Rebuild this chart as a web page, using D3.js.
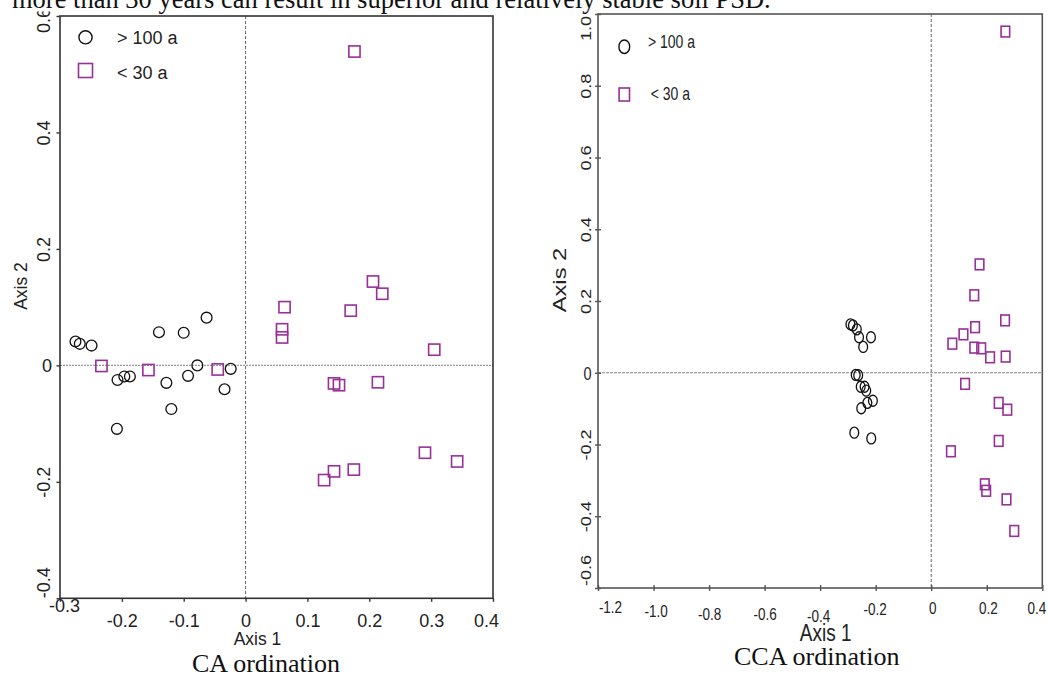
<!DOCTYPE html>
<html>
<head>
<meta charset="utf-8">
<script src="https://cdnjs.cloudflare.com/ajax/libs/d3/7.8.5/d3.min.js"></script>
<style>
  body { margin: 0; background: #fff; }
  svg { display: block; }
  text { font-family: "Liberation Sans", Arial, sans-serif; fill: #222; }
  .serif { font-family: "Liberation Serif", "Times New Roman", serif; fill: #111; }
</style>
</head>
<body>
<div id="chart"></div>
<script>
// CA ordination scores (Axis 1, Axis 2)
const caOldX = [-0.275, -0.268, -0.249, -0.140, -0.100, -0.063, -0.207, -0.196, -0.187, -0.128, -0.093, -0.078, -0.024, -0.034, -0.120, -0.208];
const caOldY = [0.041, 0.037, 0.034, 0.057, 0.056, 0.082, -0.025, -0.019, -0.019, -0.030, -0.018, 0.000, -0.006, -0.041, -0.075, -0.109];
const caYoungX = [-0.233, -0.157, -0.045, 0.176, 0.206, 0.221, 0.063, 0.170, 0.059, 0.059, 0.305, 0.143, 0.151, 0.214, 0.290, 0.342, 0.143, 0.175, 0.127];
const caYoungY = [-0.001, -0.008, -0.007, 0.539, 0.144, 0.123, 0.100, 0.094, 0.062, 0.048, 0.027, -0.031, -0.034, -0.029, -0.150, -0.165, -0.182, -0.179, -0.197];

// CCA ordination scores (Axis 1, Axis 2)
const ccaOldX = [-0.291, -0.282, -0.268, -0.260, -0.217, -0.245, -0.272, -0.263, -0.254, -0.240, -0.234, -0.210, -0.230, -0.252, -0.277, -0.216];
const ccaOldY = [0.135, 0.132, 0.121, 0.099, 0.099, 0.072, -0.006, -0.007, -0.039, -0.039, -0.050, -0.078, -0.084, -0.099, -0.167, -0.183];
const ccaYoungX = [0.267, 0.174, 0.155, 0.266, 0.158, 0.116, 0.076, 0.155, 0.180, 0.212, 0.268, 0.122, 0.243, 0.274, 0.243, 0.071, 0.193, 0.198, 0.271, 0.299];
const ccaYoungY = [0.951, 0.302, 0.216, 0.146, 0.127, 0.107, 0.081, 0.070, 0.068, 0.043, 0.045, -0.031, -0.084, -0.103, -0.190, -0.219, -0.311, -0.329, -0.353, -0.441];

const caXTicks = [-0.3, -0.2, -0.1, 0, 0.1, 0.2, 0.3, 0.4];
const caYTicks = [-0.4, -0.2, 0, 0.2, 0.4, 0.6];
const ccaXTicks = [-1.2, -1.0, -0.8, -0.6, -0.4, -0.2, 0, 0.2, 0.4];
const ccaYTicks = [-0.6, -0.4, -0.2, 0, 0.2, 0.4, 0.6, 0.8, 1.0];

const groups = ["> 100 a", "< 30 a"];
const headerText = "more than 30 years can result in superior and relatively stable soil PSD.";
const purple = "#973097";

const svg = d3.select("#chart")
              .append("svg")
              .attr("width", 1048)
              .attr("height", 675);

const drawPanel = (p) => {
  const k = p.stretch; // the right figure was pasted vertically stretched
  const x = d3.scaleLinear().domain(p.xDomain).range([p.left, p.right]);
  const y = d3.scaleLinear().domain(p.yDomain).range([p.bottom, p.top]);
  const g = svg.append("g");

  // zero lines
  g.append("line")
    .attr("x1", p.left).attr("x2", p.right)
    .attr("y1", y(0)).attr("y2", y(0))
    .attr("stroke", p.hZeroColor).attr("stroke-width", p.hZeroWidth)
    .attr("stroke-dasharray", p.hZeroDash);
  g.append("line")
    .attr("x1", x(0)).attr("x2", x(0))
    .attr("y1", p.top).attr("y2", p.bottom)
    .attr("stroke", "#666").attr("stroke-width", 1)
    .attr("stroke-dasharray", "3,2");

  // frame
  g.append("rect")
    .attr("x", p.left).attr("y", p.top)
    .attr("width", p.right - p.left).attr("height", p.bottom - p.top)
    .attr("fill", "none").attr("stroke", p.axisColor).attr("stroke-width", 1.6);

  const xAxis = d3.axisBottom(x).tickValues(p.xTicks).tickFormat(p.fmt)
                  .tickSizeInner(p.tickOut).tickSizeOuter(0);
  const gx = g.append("g").attr("transform", `translate(0,${p.bottom})`).call(xAxis);
  gx.select(".domain").remove();
  gx.selectAll(".tick line").attr("y1", -p.tickIn).attr("stroke", p.axisColor).attr("stroke-width", 1.4);
  gx.selectAll(".tick text")
    .attr("font-size", p.tickFont).attr("fill", "#222")
    .attr("y", 0).attr("dy", 0)
    .attr("transform", (d, i) => {
      const [dx, base] = p.xLabelPos(i);
      return `translate(${dx},${base}) scale(1,${k})`;
    });

  const yAxis = d3.axisLeft(y).tickValues(p.yTicks).tickFormat(p.fmt)
                  .tickSizeInner(p.tickOut).tickSizeOuter(0);
  const gy = g.append("g").attr("transform", `translate(${p.left},0)`).call(yAxis);
  gy.select(".domain").remove();
  gy.selectAll(".tick line").attr("x1", p.tickIn).attr("stroke", p.axisColor).attr("stroke-width", 1.4);
  gy.selectAll(".tick text")
    .attr("font-size", p.yTickFont).attr("fill", "#222")
    .attr("x", 0).attr("y", 0)
    .attr("dy", d => d === 0 ? "0.36em" : 0)
    .attr("text-anchor", d => d === 0 ? "end" : "middle")
    .attr("transform", (d, i) => {
      if (d === 0) return `translate(${-p.zeroGap},0) scale(1,${k})`;
      return `translate(${-p.yLabelGap},${p.yLabelShift(i)}) scale(1,${k}) rotate(-90)`;
    });

  // points
  g.append("g")
    .selectAll("ellipse")
    .data(d3.range(p.oldX.length))
    .join("ellipse")
    .attr("cx", i => x(p.oldX[i]))
    .attr("cy", i => y(p.oldY[i]))
    .attr("rx", p.r).attr("ry", p.r * k)
    .attr("fill", "none").attr("stroke", "#111").attr("stroke-width", 1.3);

  g.append("g")
    .selectAll("rect")
    .data(d3.range(p.youngX.length))
    .join("rect")
    .attr("x", i => x(p.youngX[i]) - p.sq / 2)
    .attr("y", i => y(p.youngY[i]) - p.sq * k / 2)
    .attr("width", p.sq).attr("height", p.sq * k)
    .attr("fill", "none").attr("stroke", purple).attr("stroke-width", 1.6);

  // legend
  const L = p.legend;
  g.append("ellipse")
    .attr("cx", L.mx).attr("cy", L.my[0])
    .attr("rx", L.r).attr("ry", L.r * k)
    .attr("fill", "none").attr("stroke", "#111").attr("stroke-width", 1.4);
  g.append("rect")
    .attr("x", L.mx - L.sq / 2).attr("y", L.my[1] - L.sq * k / 2)
    .attr("width", L.sq).attr("height", L.sq * k)
    .attr("fill", "none").attr("stroke", purple).attr("stroke-width", 1.6);
  g.selectAll(".leg")
    .data(groups)
    .join("text")
    .attr("class", "leg")
    .attr("font-size", L.font)
    .attr("transform", (d, i) => `translate(${L.tx[i]},${L.ty[i]}) scale(1,${k})`)
    .text(d => d);

  // axis titles
  g.append("text")
    .attr("font-size", p.titleFont)
    .attr("text-anchor", "middle")
    .attr("transform", `translate(${p.xTitle[0]},${p.xTitle[1]}) scale(1,${k})`)
    .text("Axis 1");
  g.append("text")
    .attr("font-size", p.titleFont)
    .attr("text-anchor", "middle")
    .attr("transform", `translate(${p.yTitle[0]},${p.yTitle[1]}) scale(1,${k}) rotate(-90)`)
    .text("Axis 2");

  g.append("text")
    .attr("class", "serif")
    .attr("font-size", 26)
    .attr("text-anchor", "middle")
    .attr("x", p.caption[0]).attr("y", p.caption[1])
    .text(p.captionText);
};

drawPanel({
  left: 60, right: 493, top: 16, bottom: 598.3,
  xDomain: [-0.3, 0.4], yDomain: [-0.4, 0.6],
  xTicks: caXTicks, yTicks: caYTicks,
  fmt: d => String(d),
  stretch: 1,
  axisColor: "#333",
  hZeroColor: "#999", hZeroWidth: 1.3, hZeroDash: "2,1",
  tickOut: 3.5, tickIn: 0,
  tickFont: 18, yTickFont: 18,
  xLabelPos: i => i === 0 ? [4, 13.5] : i === caXTicks.length - 1 ? [-7, 28.5] : [0, 28.5],
  yLabelGap: 10,
  yLabelShift: i => i === 0 ? -16 : i === caYTicks.length - 1 ? 4 : 0,
  zeroGap: 8,
  oldX: caOldX, oldY: caOldY, youngX: caYoungX, youngY: caYoungY,
  r: 5.4, sq: 11.2,
  legend: { mx: 85.5, my: [37.3, 70.5], r: 6.6, sq: 14, font: 18, tx: [117, 117], ty: [43.5, 78.5] },
  titleFont: 17.5,
  xTitle: [257.5, 645], yTitle: [27, 286],
  caption: [266, 672], captionText: "CA ordination"
});

const ccaNudge = [[12, 25], [2, 29], [0, 32], [0, 32], [-2, 34], [-1, 27], [1, 26], [1, 26], [-6, 26]];
drawPanel({
  left: 598, right: 1042.3, top: 14, bottom: 588,
  xDomain: [-1.2, 0.4], yDomain: [-0.6, 1.0],
  xTicks: ccaXTicks, yTicks: ccaYTicks,
  fmt: d => d === 0 ? "0" : d.toFixed(1),
  stretch: 1.25,
  axisColor: "#555",
  hZeroColor: "#888", hZeroWidth: 1, hZeroDash: "3,1",
  tickOut: 3, tickIn: 3,
  tickFont: 13.5, yTickFont: 14.5,
  xLabelPos: i => ccaNudge[i],
  yLabelGap: 7,
  yLabelShift: i => i === 0 ? -18 : i === ccaYTicks.length - 1 ? 14 : 0,
  zeroGap: 6.5,
  oldX: ccaOldX, oldY: ccaOldY, youngX: ccaYoungX, youngY: ccaYoungY,
  r: 4.4, sq: 8.6,
  legend: { mx: 624.3, my: [46.7, 94.5], r: 5.4, sq: 10.4, font: 14, tx: [648, 650.7], ty: [48.3, 100] },
  titleFont: 19,
  xTitle: [825.7, 641], yTitle: [566, 280],
  caption: [816.7, 665], captionText: "CCA ordination"
});

// running text of the page, cut off above the figure
svg.append("rect").attr("x", 0).attr("y", 0).attr("width", 1048).attr("height", 11.5).attr("fill", "#fff");
svg.append("text")
  .attr("class", "serif")
  .attr("font-size", 26.5)
  .attr("x", 12).attr("y", 8)
  .text(headerText);
</script>
</body>
</html>
